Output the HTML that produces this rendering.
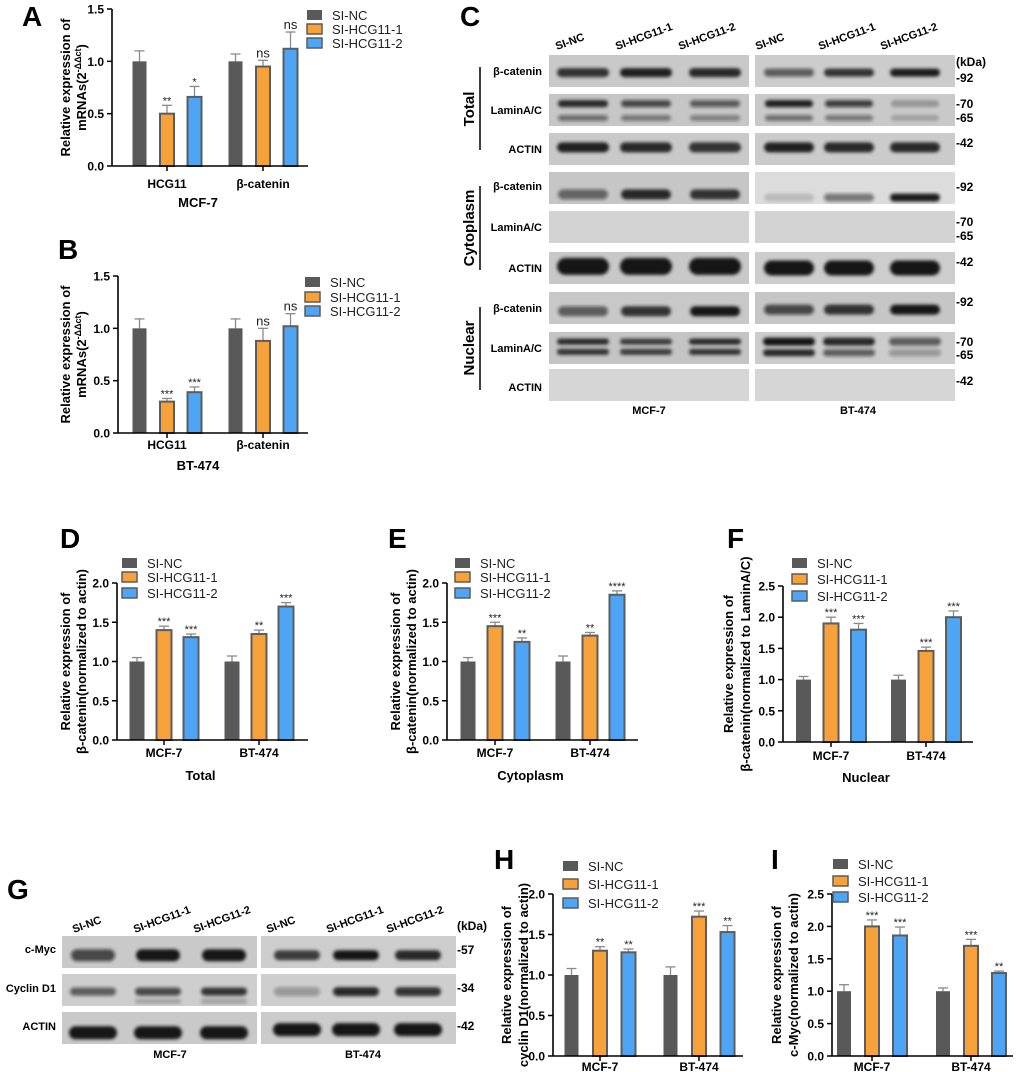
<!DOCTYPE html>
<html><head><meta charset="utf-8"><style>
html,body{margin:0;padding:0;background:#fff;}
svg{display:block;font-family:"Liberation Sans",Arial,sans-serif;}
.b{font-weight:bold;}
</style></head><body>
<svg id="fig" width="1020" height="1072" viewBox="0 0 1020 1072" xmlns="http://www.w3.org/2000/svg">
<defs><filter id="blur" x="-20%" y="-50%" width="140%" height="200%"><feGaussianBlur stdDeviation="1.6"/></filter></defs>
<g id="letters" font-weight="bold" font-size="28" fill="#000">
<text x="22" y="26">A</text>
<text x="58" y="259">B</text>
<text x="460" y="26">C</text>
<text x="60" y="548">D</text>
<text x="388" y="548">E</text>
<text x="727" y="548">F</text>
<text x="7" y="899">G</text>
<text x="494" y="869">H</text>
<text x="771" y="869">I</text>
</g>
<g id="charts"></g>
<g id="blots"></g>
</svg>
<script>
const NS='http://www.w3.org/2000/svg';
const svg=document.getElementById('fig');
const chartsG=document.getElementById('charts');
const blotsG=document.getElementById('blots');
function mk(tag,attrs,parent,txt){const e=document.createElementNS(NS,tag);for(const k in attrs)e.setAttribute(k,attrs[k]);if(txt!==undefined)e.textContent=txt;(parent||svg).appendChild(e);return e;}

// ---------- chart data ----------
const seriesNames=['SI-NC','SI-HCG11-1','SI-HCG11-2'];
const aCats=['HCG11','β-catenin'];
const aNC=[1,1], aNCerr=[0.1,0.07];
const aS1=[0.5,0.95], aS1err=[0.08,0.06], aS1sig=['**','ns'];
const aS2=[0.66,1.12], aS2err=[0.1,0.16], aS2sig=['*','ns'];
const bNC=[1,1], bNCerr=[0.09,0.09];
const bS1=[0.3,0.88], bS1err=[0.03,0.12], bS1sig=['***','ns'];
const bS2=[0.39,1.02], bS2err=[0.05,0.12], bS2sig=['***','ns'];
const cellCats=['MCF-7','BT-474'];
const dNC=[1,1], dNCerr=[0.05,0.07];
const dS1=[1.4,1.35], dS1err=[0.05,0.05], dS1sig=['***','**'];
const dS2=[1.31,1.7], dS2err=[0.04,0.05], dS2sig=['***','***'];
const eNC=[1,1], eNCerr=[0.05,0.07];
const eS1=[1.45,1.33], eS1err=[0.05,0.04], eS1sig=['***','**'];
const eS2=[1.25,1.85], eS2err=[0.05,0.05], eS2sig=['**','****'];
const fNC=[1,1], fNCerr=[0.05,0.07];
const fS1=[1.9,1.46], fS1err=[0.1,0.06], fS1sig=['***','***'];
const fS2=[1.8,2.0], fS2err=[0.1,0.1], fS2sig=['***','***'];
const hNC=[1,1], hNCerr=[0.08,0.1];
const hS1=[1.3,1.72], hS1err=[0.05,0.07], hS1sig=['**','***'];
const hS2=[1.28,1.53], hS2err=[0.04,0.08], hS2sig=['**','**'];
const iNC=[1,1], iNCerr=[0.1,0.05];
const iS1=[2.0,1.7], iS1err=[0.1,0.1], iS1sig=['***','***'];
const iS2=[1.86,1.28], iS2err=[0.13,0.03], iS2sig=['***','**'];
const ticks15=[0,0.5,1.0,1.5];
const ticks20=[0,0.5,1.0,1.5,2.0];
const ticks25=[0,0.5,1.0,1.5,2.0,2.5];

const colors=['#595959','#f7a13a','#4ea5f5'];
function chart(id,L){
  const g=mk('g',{},chartsG);
  
  
  const max=L.ticks[L.ticks.length-1];
  const ys=v=>L.y0-(v/max)*(L.y0-L.yTop);
  // bars
  const vals=[L.nc,L.s1,L.s2], errs=[L.nce,L.s1e,L.s2e], sigs=[null,L.s1s,L.s2s];
  for(let c=0;c<2;c++){
    const gc=L.x0+L.gFirst+c*L.gStep;
    for(let s=0;s<3;s++){
      const v=vals[s][c];
      const x=gc+(s-1)*L.bStep-L.bw/2;
      const y=ys(v);
      const ey=ys(v+errs[s][c]);
      const cx=x+L.bw/2;
      const el=mk('line',{x1:cx,x2:cx,y1:y,y2:ey,stroke:'#8a8a8a','stroke-width':1.3},g);
      
      
      const cap=mk('line',{x1:cx-5,x2:cx+5,y1:ey,y2:ey,stroke:'#8a8a8a','stroke-width':1.3},g);
      
      
      const r=mk('rect',{x:x,y:y,width:L.bw,height:L.y0-y,fill:colors[s],stroke:s?'#5c5c5c':'none','stroke-width':s?2:0},g);
      
      
      if(sigs[s]&&sigs[s][c]){
        const ns=sigs[s][c]==='ns';
        const t=mk('text',{x:cx,y:ey-(ns?3:1),'text-anchor':'middle','font-size':ns?13:11,fill:'#222'},g,sigs[s][c]);
        
        
      }
    }
    const lab=mk('text',{x:gc,y:L.labY,'text-anchor':'middle','font-size':12,'font-weight':'bold'},g,L.cats[c]);
    
    
    const tk=mk('line',{x1:gc,x2:gc,y1:L.y0,y2:L.y0+5,stroke:'#000','stroke-width':1.5},g);
    
    
  }
  // axes
  const ya=mk('line',{x1:L.x0,x2:L.x0,y1:L.yTop,y2:L.y0,stroke:'#000','stroke-width':1.6},g);
  
  
  const xa=mk('line',{x1:L.x0,x2:L.xEnd,y1:L.y0,y2:L.y0,stroke:'#000','stroke-width':1.6},g);
  
  
  L.ticks.forEach(t=>{
    const y=ys(t);
    const tl=mk('line',{x1:L.x0-5,x2:L.x0,y1:y,y2:y,stroke:'#000','stroke-width':1.5},g);
    
    
    const tt=mk('text',{x:L.x0-8,y:y+4.5,'text-anchor':'end','font-size':12,'font-weight':'bold'},g,t.toFixed(1));
    
    
  });
  // y title
  const cy=(L.yTop+L.y0)/2;
  const yt=mk('text',{transform:`translate(${L.tx1},${cy}) rotate(-90)`,'text-anchor':'middle','font-size':13,'font-weight':'bold'},g,'Relative expression of');
  
  
  const yt2=mk('text',{transform:`translate(${L.tx2},${cy}) rotate(-90)`,'text-anchor':'middle','font-size':13,'font-weight':'bold'},g);
  
  
  if(L.mrna){
    yt2.appendChild(document.createTextNode('mRNAs(2'));
    const sp=mk('tspan',{'font-size':9,dy:-5},yt2,'-ΔΔct');
    const sp2=mk('tspan',{dy:5},yt2,')');
  } else yt2.textContent=L.title2;
  if(L.xTitle){
    const xt=mk('text',{x:(L.x0+L.xEnd)/2+L.xTitleDx,y:L.xTitleY,'text-anchor':'middle','font-size':13,'font-weight':'bold'},g,L.xTitle);
    
    
  }
  // legend
  for(let s=0;s<3;s++){
    const lg=mk('g',{},g);
    
    
    mk('rect',{x:L.lx,y:L.ly[s]-5,width:15,height:10,fill:colors[s],stroke:s?'#5c5c5c':'none','stroke-width':s?1.5:0},lg);
    mk('text',{x:L.lx+25,y:L.ly[s]+5,'font-size':13,fill:'#222'},lg,seriesNames[s]);
  }
}
chart('a',{x0:112,xEnd:308,yTop:9,y0:166,ticks:ticks15,gFirst:55,gStep:96,bStep:27.5,bw:14,cats:aCats,nc:aNC,nce:aNCerr,s1:aS1,s1e:aS1err,s1s:aS1sig,s2:aS2,s2e:aS2err,s2s:aS2sig,labY:188,xTitle:'MCF-7',xTitleY:207,xTitleDx:-12,tx1:70,tx2:86,mrna:true,lx:307,ly:[15,29,43]});
chart('b',{x0:118,xEnd:308,yTop:276,y0:433,ticks:ticks15,gFirst:49,gStep:96,bStep:27.5,bw:14,cats:aCats,nc:bNC,nce:bNCerr,s1:bS1,s1e:bS1err,s1s:bS1sig,s2:bS2,s2e:bS2err,s2s:bS2sig,labY:449,xTitle:'BT-474',xTitleY:470,xTitleDx:-15,tx1:70,tx2:86,mrna:true,lx:305,ly:[282,297,311]});
chart('d',{x0:117,xEnd:308,yTop:583,y0:740,ticks:ticks20,gFirst:47,gStep:95,bStep:27,bw:15,cats:cellCats,nc:dNC,nce:dNCerr,s1:dS1,s1e:dS1err,s1s:dS1sig,s2:dS2,s2e:dS2err,s2s:dS2sig,labY:757,xTitle:'Total',xTitleY:780,xTitleDx:-12,tx1:70,tx2:86,title2:'β-catenin(normalized to actin)',lx:122,ly:[563,577,593]});
chart('e',{x0:447,xEnd:638,yTop:583,y0:740,ticks:ticks20,gFirst:48,gStep:95,bStep:27,bw:15,cats:cellCats,nc:eNC,nce:eNCerr,s1:eS1,s1e:eS1err,s1s:eS1sig,s2:eS2,s2e:eS2err,s2s:eS2sig,labY:757,xTitle:'Cytoplasm',xTitleY:780,xTitleDx:-12,tx1:400,tx2:416,title2:'β-catenin(normalized to actin)',lx:455,ly:[563,577,593]});
chart('f',{x0:783,xEnd:973,yTop:586,y0:742,ticks:ticks25,gFirst:48,gStep:95,bStep:27.5,bw:15,cats:cellCats,nc:fNC,nce:fNCerr,s1:fS1,s1e:fS1err,s1s:fS1sig,s2:fS2,s2e:fS2err,s2s:fS2sig,labY:760,xTitle:'Nuclear',xTitleY:782,xTitleDx:-12,tx1:733,tx2:750,title2:'β-catenin(normalized to LaminA/C)',lx:792,ly:[563,579,596]});
chart('h',{x0:553,xEnd:743,yTop:894,y0:1056,ticks:ticks20,gFirst:47,gStep:99,bStep:28.5,bw:14,cats:cellCats,nc:hNC,nce:hNCerr,s1:hS1,s1e:hS1err,s1s:hS1sig,s2:hS2,s2e:hS2err,s2s:hS2sig,labY:1071,tx1:511,tx2:528,title2:'cyclin D1(normalized to actin)',lx:563,ly:[866,884,903]});
chart('i',{x0:832,xEnd:1013,yTop:894,y0:1056,ticks:ticks25,gFirst:40,gStep:99,bStep:28,bw:14,cats:cellCats,nc:iNC,nce:iNCerr,s1:iS1,s1e:iS1err,s1s:iS1sig,s2:iS2,s2e:iS2err,s2s:iS2sig,labY:1071,tx1:781,tx2:798,title2:'c-Myc(normalized to actin)',lx:833,ly:[864,881,897]});

// ---------- blots ----------
function blot(name,x,y,w,h,bg,lanes,bands){
  const g=mk('g',{},blotsG);
  
  
  mk('rect',{x:x,y:y,width:w,height:h,fill:bg},g);
  const bg2=mk('g',{filter:'url(#blur)'},g);
  bands.forEach(b=>{
    for(let i=0;i<3;i++){
      const op=b.op[i]; if(!op) continue;
      mk('rect',{x:lanes[i]-b.w/2,y:y+h*b.f-b.h/2,width:b.w,height:b.h,rx:b.h/2,fill:'#151515',opacity:op},bg2);
    }
  });
}
const cL=[583,646,715], cR=[789,849,915];
const rowY=[55,94,133,172,211,252,292,332,369];
const rh=32;
const cRows=[
 {n:'total-beta-catenin',bgL:'#c9c9c9',bgR:'#cccccc',L:[{f:.55,h:9,w:52,op:[.85,.95,.9]}],R:[{f:.55,h:8,w:50,op:[.6,.85,.97]}]},
 {n:'total-lamin',bgL:'#c6c6c6',bgR:'#c9c9c9',L:[{f:.3,h:7,w:50,op:[.9,.7,.6]},{f:.75,h:6,w:50,op:[.5,.45,.4]}],R:[{f:.3,h:7,w:48,op:[.95,.75,.25]},{f:.75,h:6,w:48,op:[.5,.45,.2]}]},
 {n:'total-actin',bgL:'#c9c9c9',bgR:'#cbcbcb',L:[{f:.45,h:10,w:52,op:[.95,.9,.85]}],R:[{f:.45,h:10,w:50,op:[.95,.9,.9]}]},
 {n:'cyto-beta-catenin',bgL:'#c6c6c6',bgR:'#dcdcdc',L:[{f:.7,h:10,w:50,op:[.55,.9,.85]}],R:[{f:.8,h:8,w:50,op:[.15,.5,.97]}]},
 {n:'cyto-lamin',bgL:'#d3d3d3',bgR:'#d3d3d3',L:[],R:[]},
 {n:'cyto-actin',bgL:'#c8c8c8',bgR:'#cdcdcd',L:[{f:.45,h:17,w:52,op:[1,1,1]}],R:[{f:.5,h:15,w:50,op:[1,1,1]}]},
 {n:'nuclear-beta-catenin',bgL:'#c8c8c8',bgR:'#c6c6c6',L:[{f:.6,h:10,w:50,op:[.6,.85,1]}],R:[{f:.55,h:10,w:50,op:[.7,.85,1]}]},
 {n:'nuclear-lamin',bgL:'#c4c4c4',bgR:'#cccccc',L:[{f:.3,h:6,w:52,op:[.9,.8,.9]},{f:.62,h:6,w:52,op:[.85,.8,.85]}],R:[{f:.3,h:8,w:52,op:[1,.9,.6]},{f:.65,h:7,w:52,op:[.9,.6,.3]}]},
 {n:'nuclear-actin',bgL:'#d6d6d6',bgR:'#d6d6d6',L:[],R:[]}
];
cRows.forEach((r,i)=>{
  blot('blot-c-'+r.n+'-mcf7',549,rowY[i],200,rh,r.bgL,cL,r.L);
  blot('blot-c-'+r.n+'-bt474',755,rowY[i],200,rh,r.bgR,cR,r.R);
});
const gL=[93,158,224], gR=[297,356,418];
const gY=[936,974,1012];
const gRows=[
 {n:'c-myc',bgL:'#c9c9c9',bgR:'#cdcdcd',L:[{f:.6,h:12,w:44,op:[.7,1,1]}],R:[{f:.6,h:10,w:46,op:[.8,1,.9]}]},
 {n:'cyclin-d1',bgL:'#cdcdcd',bgR:'#cecece',L:[{f:.55,h:8,w:46,op:[.6,.7,.85]},{f:.85,h:4,w:46,op:[0,.25,.3]}],R:[{f:.55,h:9,w:46,op:[.3,.9,.85]}]},
 {n:'actin',bgL:'#c9c9c9',bgR:'#cbcbcb',L:[{f:.65,h:13,w:48,op:[1,1,1]}],R:[{f:.55,h:13,w:48,op:[1,1,1]}]}
];
gRows.forEach((r,i)=>{
  blot('blot-g-'+r.n+'-mcf7',62,gY[i],195,32,r.bgL,gL,r.L);
  blot('blot-g-'+r.n+'-bt474',261,gY[i],195,32,r.bgR,gR,r.R);
});
</script>
<g></g>
<svg width="1020" height="1072" style="position:absolute;left:0;top:0" viewBox="0 0 1020 1072" xmlns="http://www.w3.org/2000/svg" font-family="Liberation Sans, Arial, sans-serif" font-weight="bold">
<g font-size="11">
<text transform="translate(557,50) rotate(-20)">SI-NC</text>
<text transform="translate(617,50) rotate(-20)">SI-HCG11-1</text>
<text transform="translate(680,50) rotate(-20)">SI-HCG11-2</text>
<text transform="translate(757,50) rotate(-20)">SI-NC</text>
<text transform="translate(820,50) rotate(-20)">SI-HCG11-1</text>
<text transform="translate(882,50) rotate(-20)">SI-HCG11-2</text>
<g text-anchor="end">
<text x="542" y="75">β-catenin</text><text x="542" y="114">LaminA/C</text><text x="542" y="153">ACTIN</text>
<text x="542" y="190">β-catenin</text><text x="542" y="231">LaminA/C</text><text x="542" y="272">ACTIN</text>
<text x="542" y="312">β-catenin</text><text x="542" y="352">LaminA/C</text><text x="542" y="391">ACTIN</text>
</g>
<g font-size="12">
<text x="956" y="66">(kDa)</text><text x="956" y="82">-92</text><text x="956" y="108">-70</text><text x="956" y="122">-65</text><text x="956" y="147">-42</text>
<text x="956" y="191">-92</text><text x="956" y="226">-70</text><text x="956" y="240">-65</text><text x="956" y="266">-42</text>
<text x="956" y="306">-92</text><text x="956" y="346">-70</text><text x="956" y="359">-65</text><text x="956" y="385">-42</text>
</g>
<text x="649" y="414" text-anchor="middle" font-size="11">MCF-7</text>
<text x="858" y="414" text-anchor="middle" font-size="11">BT-474</text>
</g>
<g font-size="15" text-anchor="middle">
<text transform="translate(474,109) rotate(-90)">Total</text>
<line x1="480" y1="67" x2="480" y2="150" stroke="#000" stroke-width="1.5"/>
<text transform="translate(474,228) rotate(-90)">Cytoplasm</text>
<line x1="480" y1="186" x2="480" y2="270" stroke="#000" stroke-width="1.5"/>
<text transform="translate(474,348) rotate(-90)">Nuclear</text>
<line x1="480" y1="307" x2="480" y2="390" stroke="#000" stroke-width="1.5"/>
</g>
<g font-size="11">
<text transform="translate(74,933) rotate(-20)">SI-NC</text>
<text transform="translate(135,933) rotate(-20)">SI-HCG11-1</text>
<text transform="translate(195,933) rotate(-20)">SI-HCG11-2</text>
<text transform="translate(268,933) rotate(-20)">SI-NC</text>
<text transform="translate(328,933) rotate(-20)">SI-HCG11-1</text>
<text transform="translate(388,933) rotate(-20)">SI-HCG11-2</text>
<g text-anchor="end">
<text x="56" y="953">c-Myc</text><text x="56" y="992">Cyclin D1</text><text x="56" y="1030">ACTIN</text>
</g>
<g font-size="12">
<text x="457" y="930">(kDa)</text><text x="457" y="954">-57</text><text x="457" y="992">-34</text><text x="457" y="1030">-42</text>
</g>
<text x="170" y="1058" text-anchor="middle">MCF-7</text>
<text x="363" y="1058" text-anchor="middle">BT-474</text>
</g>
</svg>
</body></html>
